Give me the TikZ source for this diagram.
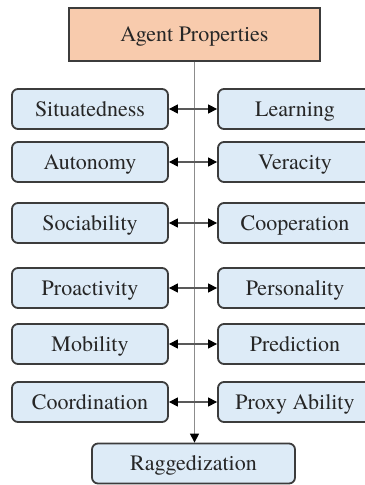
\documentclass[tikz,border=0pt]{standalone}
\usepackage{fontspec}
\setmainfont{TeX Gyre Termes}
\usetikzlibrary{arrows.meta}
\definecolor{propfill}{HTML}{F8CBAD}
\definecolor{itemfill}{HTML}{DDEBF7}
\definecolor{edgegray}{HTML}{3C3C3C}
\definecolor{linegray}{HTML}{8C8C8C}
\begin{document}
\begin{tikzpicture}[x=0.5pt,y=-0.5pt]
\tikzstyle{every node}+=[inner sep=0pt, text height=9.6pt, text depth=2.2pt, text=black!85, font=\fontsize{11}{12}\selectfont]
\tikzstyle{box}=[draw=edgegray, line width=0.9pt, rounded corners=3pt, fill=itemfill, minimum height=20pt]
\tikzstyle{leftbox}=[box, minimum width=78pt]
\tikzstyle{rightbox}=[box, minimum width=77pt]
\tikzstyle{link}=[draw=black!65, line width=0.6pt, {Triangle[length=4.5pt,width=4.5pt,color=black]}-{Triangle[length=4.5pt,width=4.5pt,color=black]}]
\useasboundingbox (0,0) rectangle (364,485);
\node [box, fill=propfill, rounded corners=0pt, minimum width=125.5pt, minimum height=26.5pt] (props) at (194.5,34.5) {Agent Properties};
\node [box, minimum width=101.5pt] (ragged) at (193.5,463.5) {Raggedization};
%\draw [linegray] (194.5,61) -- (194.5,444);
\draw [linegray, line width=0.6pt, -{Triangle[length=4.5pt,width=4.5pt,color=black]}] (props.south) -- (props.south |- ragged.north);
\node [leftbox] (situated) at (90,109) {Situatedness};
\node [rightbox] (learning) at (295,109) {Learning};
\draw [link] (situated) -- (learning);
\node [leftbox] (autonomy) at (90,162) {Autonomy};
\node [rightbox] (veracity) at (295,162) {Veracity};
\draw [link] (autonomy) -- (veracity);
\node [leftbox] (sociable) at (90,223) {Sociability};
\node [rightbox] (cooperate) at (295,223) {Cooperation};
\draw [link] (sociable) -- (cooperate);
\node [leftbox] (proactive) at (90,288) {Proactivity};
\node [rightbox] (personal) at (295,288) {Personality};
\draw [link] (proactive) -- (personal);
\node [leftbox] (mobility) at (90,344) {Mobility};
\node [rightbox] (predict) at (295,344) {Prediction};
\draw [link] (mobility) -- (predict);
\node [leftbox] (coordinate) at (90,402) {Coordination};
\node [rightbox] (proxy) at (295,402) {Proxy Ability};
\draw [link] (coordinate) -- (proxy);
\end{tikzpicture}
\end{document}
